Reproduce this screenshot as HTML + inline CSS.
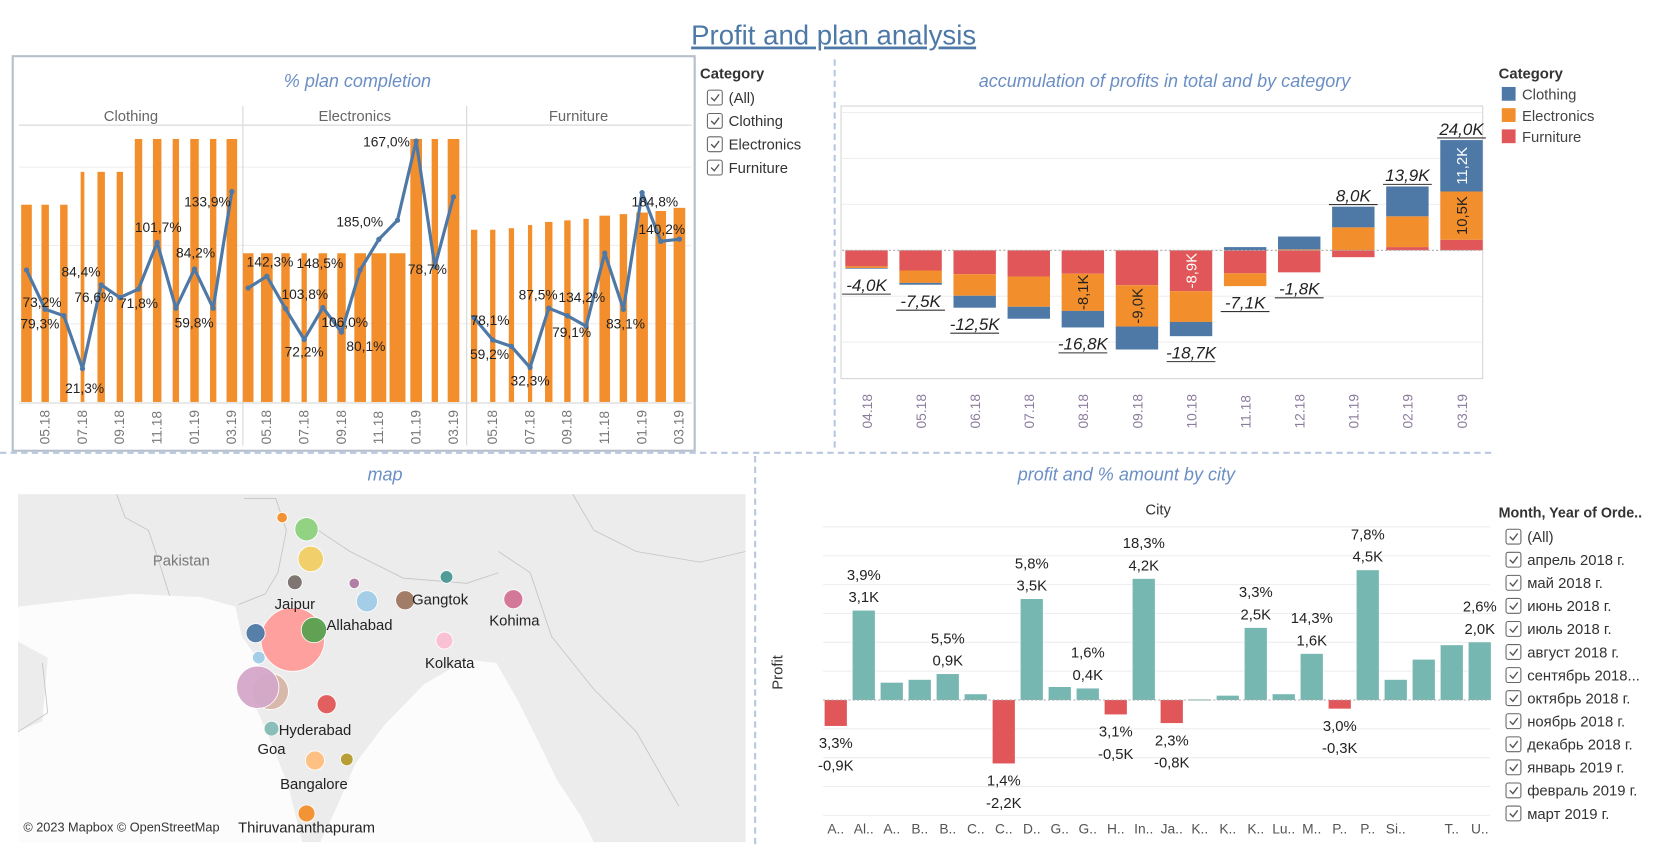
<!DOCTYPE html>
<html><head><meta charset="utf-8">
<style>
html,body{margin:0;padding:0;background:#fff;overflow:hidden;width:1663px;height:855px;}
#wrap{position:absolute;left:0;top:0;width:1568px;height:806px;transform:scale(1.06059);transform-origin:0 0;}
svg text{font-family:"Liberation Sans","DejaVu Sans",sans-serif;}
</style></head>
<body>
<div id="wrap">
<svg id="svg" width="1568" height="806" viewBox="0 0 1568 806" xmlns="http://www.w3.org/2000/svg">
  <text x="786" y="42" text-anchor="middle" font-size="26" fill="#4e79a7" text-decoration="underline">Profit and plan analysis</text>
  <rect x="12" y="53" width="643" height="372" fill="none" stroke="#b7bfcb" stroke-width="2"/>
  <text x="337" y="82" text-anchor="middle" font-size="17" font-style="italic" fill="#6b8fc4">% plan completion</text>
  <text x="1098" y="82" text-anchor="middle" font-size="17" font-style="italic" fill="#6b8fc4">accumulation of profits in total and by category</text>
  <text x="363" y="453" text-anchor="middle" font-size="17" font-style="italic" fill="#6b8fc4">map</text>
  <text x="1062" y="453" text-anchor="middle" font-size="17" font-style="italic" fill="#6b8fc4">profit and % amount by city</text>
  <line x1="787" y1="56" x2="787" y2="424" stroke="#b9c8e0" stroke-width="2" stroke-dasharray="6,4"/>
  <line x1="0" y1="427" x2="1410" y2="427" stroke="#b9c8e0" stroke-width="2" stroke-dasharray="6,4"/>
  <line x1="712" y1="430" x2="712" y2="800" stroke="#b9c8e0" stroke-width="2" stroke-dasharray="6,4"/>
  <g id="plan"></g>
  <g id="wf"></g>
  <g id="map"></g>
  <g id="city"></g>
  <g id="legends"></g>
</svg>
</div>
<script>
// ---------- data: plan completion ----------
const planPanes = ["Clothing","Electronics","Furniture"];
const planMonths = ["04.18","05.18","06.18","07.18","08.18","09.18","10.18","11.18","12.18","01.19","02.19","03.19"];
const planClothing = [126,126,126,147,147,147,168,168,168,168,168,168];
const planElectronics = [95,95,95,95,95,95,95,95,95,168,168,168];
const planFurniture = [110,110,111,113,115,116,117,119,120,121,122,124];
const sizeClothing = [8,5,5,1.5,5,4,5,6,4,6,4,8];
const sizeElectronics = [8,9,6,3,6,6,9,12,13,9,4,9];
const sizeFurniture = [4,3,3,2,5,4,3,8,5,9,8,9];
const pctClothing = [84.3,59.2,55.1,21.3,74.8,66.7,72.1,101.9,59.9,84.9,59.9,134.4];
const pctElectronics = [72.8,80.3,59.6,39.9,60.3,44.6,84.3,103.9,116.1,166.7,86.4,131.0];
const pctFurniture = [53.8,39.6,35.5,22.0,59.9,55.1,48.4,95.1,59.2,133.7,102.6,104.0];
const lblClothing = [[1,"73,2%",-3,-2],[1,"79,3%",-5,18],[4,"84,4%",-19,-8],[3,"21,3%",2,23],[4,"76,6%",-7,16],[6,"71,8%",0,18],[7,"101,7%",1,-10],[9,"84,2%",1,-11],[10,"59,8%",-18,18],[11,"133,9%",-23,14]];
const lblElectronics = [[1,"142,3%",3,-9],[4,"103,8%",-17,-8],[3,"72,2%",0,16],[6,"148,5%",-38,-2],[5,"106,0%",3,-5],[5,"80,1%",23,18],[7,"185,0%",-18,-12],[9,"167,0%",-28,5],[10,"78,7%",-7,7]];
const lblFurniture = [[0,"78,1%",15,7],[1,"59,2%",-3,18],[4,"87,5%",-10,-8],[3,"32,3%",0,17],[6,"134,2%",-4,-23],[5,"79,1%",4,20],[8,"83,1%",2,18],[9,"184,8%",12,13],[10,"140,2%",1,-7]];

// ---------- data: waterfall ----------
const wfMonths = ["04.18","05.18","06.18","07.18","08.18","09.18","10.18","11.18","12.18","01.19","02.19","03.19"];
const wfFurniture = [-3.5,-4.4,-5.2,-5.7,-5.1,-7.6,-8.9,-5.0,-4.8,-1.5,0.7,2.3];
const wfElectronics = [-0.35,-2.7,-4.7,-6.6,-8.1,-9.0,-6.7,-2.8,0.2,5.0,6.7,10.5];
const wfClothing = [-0.15,-0.4,-2.6,-2.6,-3.6,-5.0,-3.1,0.7,2.8,4.5,6.5,11.2];
const wfTotals = ["-4,0K","-7,5K","-12,5K","","-16,8K","","-18,7K","-7,1K","-1,8K","8,0K","13,9K","24,0K"];
const wfSegLabels = [[4,"e","-8,1K","#222"],[5,"e","-9,0K","#222"],[6,"f","-8,9K","#fff"],[11,"c","11,2K","#fff"],[11,"e","10,5K","#222"]];

// ---------- data: city ----------
const cityNames = ["A..","Al..","A..","B..","B..","C..","C..","D..","G..","G..","H..","In..","Ja..","K..","K..","K..","Lu..","M..","P..","P..","Si..","","T..","U.."];
const cityProfit = [-0.9,3.1,0.6,0.7,0.9,0.2,-2.2,3.5,0.45,0.4,-0.5,4.2,-0.8,0.02,0.15,2.5,0.2,1.6,-0.3,4.5,0.7,1.4,1.9,2.0];
const cityPct = ["3,3%","3,9%","","","5,5%","","1,4%","5,8%","","1,6%","3,1%","18,3%","2,3%","","","3,3%","","14,3%","3,0%","7,8%","","","","2,6%"];
const cityValLbl = ["-0,9K","3,1K","","","0,9K","","-2,2K","3,5K","","0,4K","-0,5K","4,2K","-0,8K","","","2,5K","","1,6K","-0,3K","4,5K","","","","2,0K"];

// ---------- data: map (drawn in array order) ----------
const mapCities = ["Udaipur","Pune","Mumbai","Amritsar","Chandigarh","Delhi","Jaipur","Lucknow","Allahabad","Gangtok-area","Gangtok","Kohima","Ahmedabad","Bhopal","Surat","Hyderabad","Goa","Bangalore","Chennai","Thiruvananthapuram","Kolkata"];
const mapLon = [276,255,243,266,289,293,278,334,346,382,421,484,241,296,244,308,256,297,327,289,419];
const mapLat = [603,652,648,488,499,527,549,550,567,566,544,565,597,594,620,664,687,717,716,767,604];
const mapSize = [30,17,20,5,11,12,7,5,10,9,6,9,9,12,6,9,7,9,6,8,8];
const mapColors = ["#ff9d9a","#d7b5a6","#d4a6c8","#f28e2b","#8cd17d","#f1ce63","#79706e","#b07aa1","#a0cbe8","#9d7660","#499894","#d37295","#4e79a7","#59a14f","#a0cbe8","#e15759","#86bcb6","#ffbe7d","#b6992d","#f28e2b","#fabfd2"];
const mapLabels = [["Pakistan",171,533,"#777"],["Jaipur",278,574,"#222"],["Allahabad",339,594,"#222"],["Gangtok",415,570,"#222"],["Kohima",485,590,"#222"],["Kolkata",424,630,"#222"],["Hyderabad",297,693,"#222"],["Goa",256,711,"#222"],["Bangalore",296,744,"#222"],["Thiruvananthapuram",289,785,"#222"]];

const NS = "http://www.w3.org/2000/svg";
function mk(parent, tag, attrs, txt){
  const e = document.createElementNS(NS, tag);
  for (const k in attrs) e.setAttribute(k, attrs[k]);
  if (txt !== undefined) e.textContent = txt;
  parent.appendChild(e);
  return e;
}

// ===== plan completion chart =====
(function(){
  const g = document.getElementById("plan");
  const base = 379, pxPer = 1.476;
  const y = v => base - v * pxPer;
  const paneX = [18, 229, 440], paneW = 211, step = 17.6;
  const plans = [planClothing, planElectronics, planFurniture];
  const sizes = [sizeClothing, sizeElectronics, sizeFurniture];
  const pcts = [pctClothing, pctElectronics, pctFurniture];
  const lbls = [lblClothing, lblElectronics, lblFurniture];
  const x0s = [25, 234, 447];
  [50,100,150].forEach(v => {
    const l = mk(g, "line", {x1:18, x2:652, y1:y(v), y2:y(v), stroke:"#eeeeee", "stroke-width":1});
    
    
  });
  const hl = mk(g, "line", {x1:18, x2:652, y1:118, y2:118, stroke:"#d0d0d0"});
  
  
  const xa = mk(g, "line", {x1:18, x2:652, y1:base+1, y2:base+1, stroke:"#d0d0d0"});
  
  
  planPanes.forEach((p, pi) => {
    const hdr = mk(g, "text", {x: paneX[pi] + paneW/2, y: 114, "text-anchor":"middle", "font-size":14, fill:"#666"}, p);
    
    
    if (pi > 0) {
      const d = mk(g, "line", {x1:paneX[pi], x2:paneX[pi], y1:100, y2:420, stroke:"#d6d6d6"});
      
      
    }
    const xs = planMonths.map((m, i) => x0s[pi] + step * i);
    planMonths.forEach((m, i) => {
      const w = sizes[pi][i] + 2;
      const b = mk(g, "rect", {x: xs[i] - w/2, y: y(plans[pi][i]), width: w, height: base - y(plans[pi][i]), fill:"#f28e2b"});
      
      
      if (i % 2 === 1) {
        const t = mk(g, "text", {x:0, y:0, transform:`translate(${xs[i]+4},${base+40}) rotate(-90)`, "font-size":13, fill:"#777"}, m);
        
        
      }
    });
    const pts = pcts[pi].map((v, i) => xs[i] + "," + y(v)).join(" ");
    const ln = mk(g, "polyline", {points: pts, fill:"none", stroke:"#4e79a7", "stroke-width":3, "stroke-linejoin":"round"});
    
    
    pcts[pi].forEach((v, i) => {
      const c = mk(g, "circle", {cx: xs[i], cy: y(v), r: 2.5, fill:"#4e79a7"});
      
      
    });
    lbls[pi].forEach(L => {
      const t = mk(g, "text", {x: xs[L[0]] + L[2], y: y(pcts[pi][L[0]]) + L[3], "text-anchor":"middle", "font-size":13, fill:"#222"}, L[1]);
      
      
    });
  });
})();

// ===== waterfall =====
(function(){
  const g = document.getElementById("wf");
  const zero = 236, pxK = 4.33, x0 = 817, step = 51, bw = 40;
  const y = v => zero - v * pxK;
  const fr = mk(g, "rect", {x:793, y:100, width:605, height:257, fill:"none", stroke:"#d4d4d4"});
  
  
  [-20,-10,10,20,30].forEach(v => {
    const l = mk(g, "line", {x1:794, x2:1397, y1:y(v), y2:y(v), stroke:"#eeeeee"});
    
    
  });
  const cols = {f:"#e15759", e:"#f28e2b", c:"#4e79a7"};
  const series = {f: wfFurniture, e: wfElectronics, c: wfClothing};
  const segPos = {};
  wfMonths.forEach((m, i) => {
    const cx = x0 + step * i;
    let pos = 0, neg = 0;
    ["f","e","c"].forEach(k => {
      const v = series[k][i];
      let a, b;
      if (v >= 0) { a = pos; b = pos + v; pos = b; } else { a = neg; b = neg + v; neg = b; }
      segPos[i + k] = [a, b];
      const r = mk(g, "rect", {x: cx - bw/2, y: Math.min(y(a), y(b)), width: bw, height: Math.abs(y(a) - y(b)), fill: cols[k]});
      
      
    });
    const total = series.f[i] + series.e[i] + series.c[i];
    if (wfTotals[i]) {
      const ty = total >= 0 ? y(pos) - 5 : y(neg) + 21;
      const t = mk(g, "text", {x: cx, y: ty, "text-anchor":"middle", "font-size":16, "font-style":"italic", fill:"#222"}, wfTotals[i]);
      
      
      const u = mk(g, "line", {x1: cx - 23, x2: cx + 23, y1: ty + 3, y2: ty + 3, stroke:"#333", "stroke-width":1});
      
      
    }
    const xt = mk(g, "text", {x:0, y:0, transform:`translate(${cx+5},${404}) rotate(-90)`, "font-size":13, fill:"#8c7c9c"}, m);
    
    
  });
  const zl = mk(g, "line", {x1:794, x2:1397, y1:zero, y2:zero, stroke:"#aaa", "stroke-dasharray":"2,2"});
  
  
  wfSegLabels.forEach(L => {
    const s = segPos[L[0] + L[1]];
    const cy = (y(s[0]) + y(s[1])) / 2, cx = x0 + step * L[0];
    const t = mk(g, "text", {x:0, y:0, transform:`translate(${cx+5},${cy}) rotate(-90)`, "text-anchor":"middle", "font-size":14, fill:L[3]}, L[2]);
    
    
  });
})();

// ===== map =====
(function(){
  const g = document.getElementById("map");
  const land = mk(g, "rect", {x:17, y:466, width:686, height:328, fill:"#ececec"});
  
  
  const w = mk(g, "polygon", {points:"17,572 70,566 125,560 190,563 222,572 228,600 245,624 238,660 256,700 272,742 285,794 17,794 17,690 40,680 45,620 17,605", fill:"#fcfcfc"});
  
  
  const b = mk(g, "polygon", {points:"302,794 318,760 335,720 362,684 400,645 440,622 468,625 488,660 508,700 525,735 548,770 560,794", fill:"#fcfcfc"});
  
  
  ["110,466 118,488 140,500 150,530 160,562","230,470 260,470 270,500 262,540 250,560 225,570","300,500 330,520 380,545 440,550 470,540","470,520 500,540 520,600 560,650 600,690 640,760","540,466 560,500 600,520 660,530 703,520","17,690 45,672 40,625"].forEach(p => {
    const l = mk(g, "polyline", {points:p, fill:"none", stroke:"#c4c4c4", "stroke-width":0.8});
    
    
  });
  mapCities.forEach((nm, i) => {
    const c = mk(g, "circle", {cx: mapLon[i], cy: mapLat[i], r: mapSize[i], fill: mapColors[i], stroke:"#fff", "stroke-width":0.8, "fill-opacity":0.95});
    
    
  });
  mapLabels.forEach(L => {
    const t = mk(g, "text", {x: L[1], y: L[2], "text-anchor":"middle", "font-size":14, fill: L[3]}, L[0]);
    
    
  });
  const cr = mk(g, "text", {x:22, y:784, "font-size":12, fill:"#333"}, "© 2023 Mapbox © OpenStreetMap");
  
  
})();

// ===== city chart =====
(function(){
  const g = document.getElementById("city");
  const zero = 660, pxK = 27.2, x0 = 788, step = 26.4, bw = 21;
  const y = v => zero - v * pxK;
  [-4,-3,-2,-1,1,2,3,4,5,6].forEach(v => {
    const l = mk(g, "line", {x1:776, x2:1405, y1:y(v), y2:y(v), stroke:"#eeeeee"});
    
    
  });
  const ct = mk(g, "text", {x:1092, y:485, "text-anchor":"middle", "font-size":14, fill:"#333"}, "City");
  
  
  const pt = mk(g, "text", {x:0, y:0, transform:"translate(738,634) rotate(-90)", "text-anchor":"middle", "font-size":14, fill:"#333"}, "Profit");
  
  
  cityProfit.forEach((v, i) => {
    const cx = x0 + step * i;
    const r = mk(g, "rect", {x: cx - bw/2, y: Math.min(y(v), zero), width: bw, height: Math.max(Math.abs(v * pxK), 1), fill: v >= 0 ? "#76b7b2" : "#e15759"});
    
    
    if (cityPct[i]) {
      const y1 = v >= 0 ? y(v) - 29 : y(v) + 21;
      const a = mk(g, "text", {x: cx, y: y1, "text-anchor":"middle", "font-size":14, fill:"#222"}, cityPct[i]);
      
      
      const b = mk(g, "text", {x: cx, y: y1 + 21, "text-anchor":"middle", "font-size":14, fill:"#222"}, cityValLbl[i]);
      
      
    }
    if (cityNames[i]) {
      const t = mk(g, "text", {x: cx, y: 786, "text-anchor":"middle", "font-size":13, fill:"#555"}, cityNames[i]);
      
      
    }
  });
  const zl = mk(g, "line", {x1:776, x2:1405, y1:zero, y2:zero, stroke:"#aaa", "stroke-dasharray":"2,2"});
  
  
})();

// ===== legends =====
(function(){
  const g = document.getElementById("legends");
  function checkItem(x, y, label, name){
    const r = mk(g, "rect", {x: x, y: y - 12, width: 14, height: 14, rx: 2, fill:"#fff", stroke:"#666"});
    
    
    const ck = mk(g, "path", {d:`M${x+3.5} ${y-5} l3 3 l4.5 -6`, fill:"none", stroke:"#555", "stroke-width":1.3});
    
    
    const t = mk(g, "text", {x: x + 20, y: y, "font-size":14, fill:"#333"}, label);
    
    
  }
  const h1 = mk(g, "text", {x:660, y:74, "font-size":14, "font-weight":"bold", fill:"#333"}, "Category");
  
  
  ["(All)","Clothing","Electronics","Furniture"].forEach((s, i) => checkItem(667, 97 + 22 * i, s, 'category-filter-item'));
  const h2 = mk(g, "text", {x:1413, y:74, "font-size":14, "font-weight":"bold", fill:"#333"}, "Category");
  
  
  [["Clothing","#4e79a7"],["Electronics","#f28e2b"],["Furniture","#e15759"]].forEach((c, i) => {
    const r = mk(g, "rect", {x:1416, y: 82 + 20 * i, width: 13, height: 13, fill: c[1]});
    
    
    const t = mk(g, "text", {x:1435, y: 94 + 20 * i, "font-size":14, fill:"#444"}, c[0]);
    
    
  });
  const h3 = mk(g, "text", {x:1413, y:488, "font-size":13.5, "font-weight":"bold", fill:"#333"}, "Month, Year of Orde..");
  
  
  ["(All)","апрель 2018 г.","май 2018 г.","июнь 2018 г.","июль 2018 г.","август 2018 г.","сентябрь 2018...","октябрь 2018 г.","ноябрь 2018 г.","декабрь 2018 г.","январь 2019 г.","февраль 2019 г.","март 2019 г."].forEach((s, i) => checkItem(1420, 511 + 21.75 * i, s, 'month-filter-item'));
})();
</script>
</body></html>
